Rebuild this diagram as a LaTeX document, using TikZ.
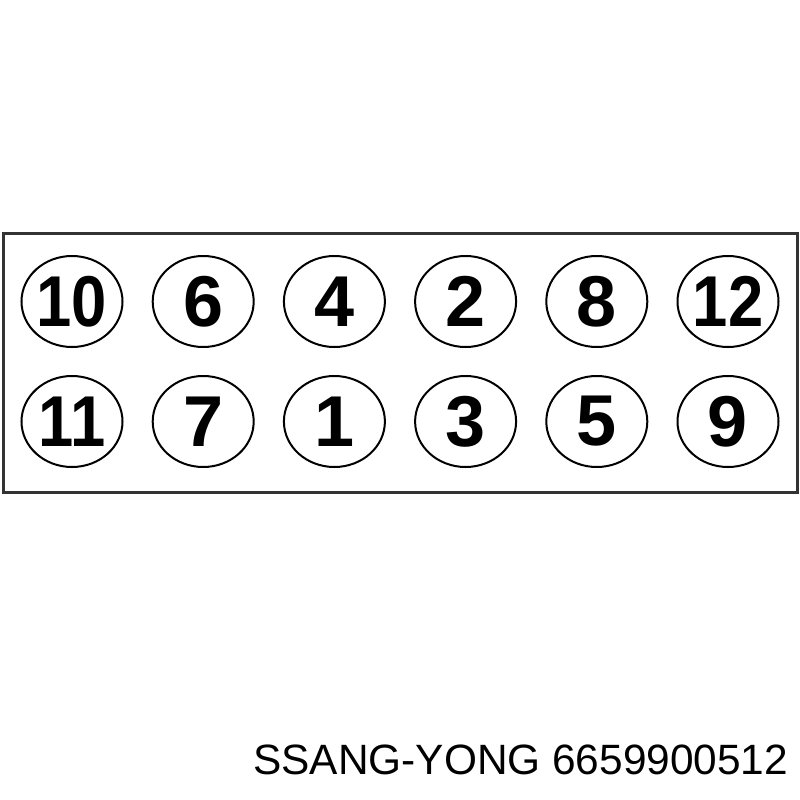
\documentclass[tikz,border=0pt]{standalone}
\usepackage{fontspec}
\usepackage{graphicx}
\setmainfont{Liberation Sans}
\usetikzlibrary{shapes.geometric}
\newcommand{\plugnum}[1]{\makebox[0pt]{#1}}
\newcommand{\plugnarrow}[1]{\makebox[0pt]{\scalebox{0.88}[1]{#1}}}
\begin{document}
\begin{tikzpicture}[x=1pt,y=-1pt,
  plug/.style={draw=black, line width=2pt, ellipse, minimum width=101pt, minimum height=91pt, inner sep=0pt,
    font=\bfseries\fontsize{72}{72}\selectfont},
  frame/.style={draw=black!80, line width=3pt},
  caption/.style={anchor=base west, inner sep=0pt, font=\fontsize{42.4}{44}\selectfont}]
\useasboundingbox (0,0) rectangle (800,800);
\node[frame, minimum width=794pt, minimum height=259pt, inner sep=0pt] (box) at (400,362.5) {};
\node[plug] (p10) at (72,301.5) {\plugnarrow{10}};
\node[plug] (p6) at (203.2,301.5) {\plugnum{6}};
\node[plug] (p4) at (334.4,301.5) {\plugnum{4}};
\node[plug] (p2) at (465.6,301.5) {\plugnum{2}};
\node[plug] (p8) at (596.8,301.5) {\plugnum{8}};
\node[plug] (p12) at (728,301.5) {\plugnarrow{12}};
\node[plug] (p11) at (72,421.5) {\plugnarrow{11}};
\node[plug] (p7) at (203.2,421.5) {\plugnum{7}};
\node[plug] (p1) at (334.4,421.5) {\plugnum{1}};
\node[plug] (p3) at (465.6,421.5) {\plugnum{3}};
\node[plug] (p5) at (596.8,421.5) {\plugnum{5}};
\node[plug] (p9) at (728,421.5) {\plugnum{9}};
\node[caption] (cap) at (253,774) {SSANG-YONG 6659900512};
\end{tikzpicture}
\end{document}
